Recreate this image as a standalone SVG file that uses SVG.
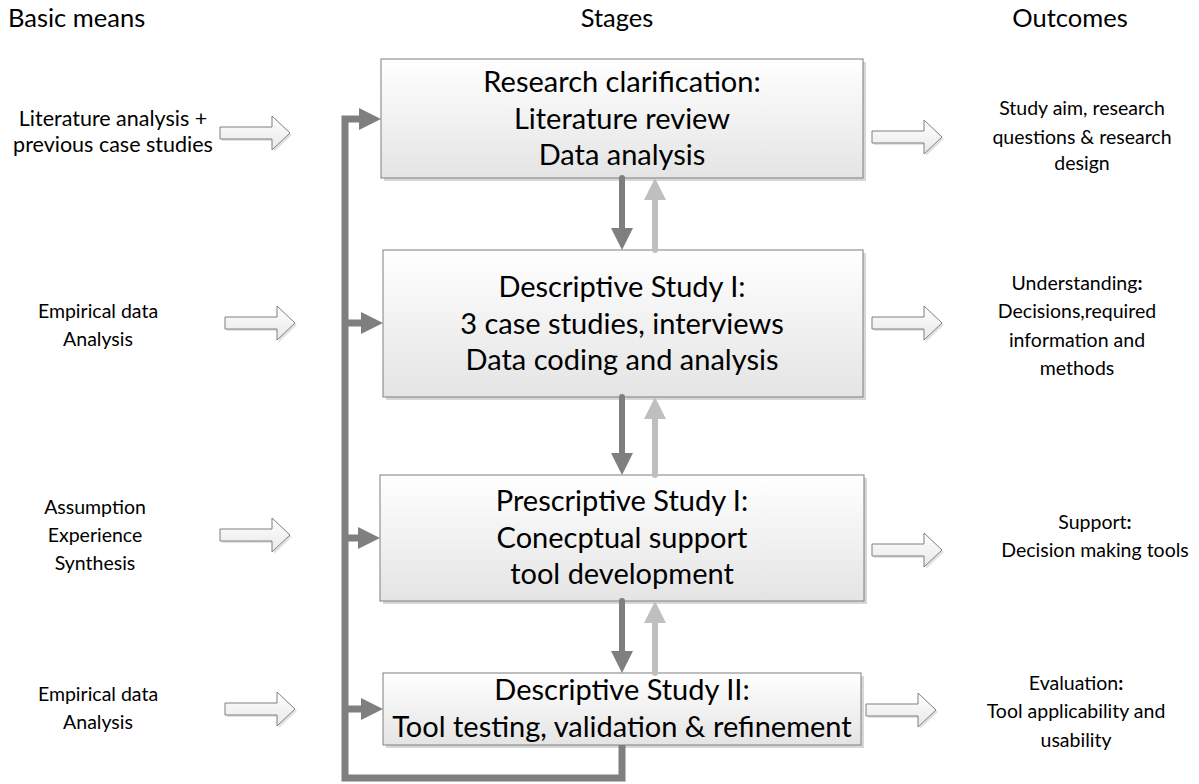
<svg xmlns="http://www.w3.org/2000/svg" width="1199" height="784" viewBox="0 0 1199 784">
<defs>
<linearGradient id="boxGrad" x1="0" y1="0" x2="0" y2="1">
<stop offset="0" stop-color="#ffffff"/>
<stop offset="1" stop-color="#e4e4e4"/>
</linearGradient>
<linearGradient id="arrGrad" x1="0" y1="0" x2="0" y2="1">
<stop offset="0" stop-color="#ffffff"/>
<stop offset="1" stop-color="#e8e8e8"/>
</linearGradient>
<marker id="headDark" viewBox="0 -11 22 22" markerWidth="22" markerHeight="22" refX="0" refY="0" orient="auto" markerUnits="userSpaceOnUse">
<path d="M0,-11 L22,0 L0,11 z" fill="#7f7f7f"/>
</marker>
<marker id="headLight" viewBox="0 -11 22 22" markerWidth="22" markerHeight="22" refX="0" refY="0" orient="auto" markerUnits="userSpaceOnUse">
<path d="M0,-11 L22,0 L0,11 z" fill="#bfbfbf"/>
</marker>
<path id="blockArrow" d="M0,-6 H52 V-17 L70,0 L52,17 V6 H0 z"/>
</defs>
<style>
text { font-family: Lato, "Open Sans", "Liberation Sans", sans-serif; fill: #000; }
.hdr { font-size: 25.5px; }
.box { font-size: 29px; text-anchor: middle; }
.side { font-size: 19.5px; text-anchor: middle; }
.side-lg { font-size: 21.5px; text-anchor: middle; }
.stage { fill: url(#boxGrad); stroke: #7f7f7f; stroke-width: 1; }
.shadow { fill: #bdbdbd; opacity: 0.6; }
.barr { fill: url(#arrGrad); stroke: #7f7f7f; stroke-width: 1; }
.barrsh { fill: #cfcfcf; opacity: 0.6; }
.dark { fill: none; stroke: #7f7f7f; stroke-width: 6; stroke-linecap: round; }
.light { fill: none; stroke: #bfbfbf; stroke-width: 6; stroke-linecap: round; }
.loop { fill: none; stroke: #7f7f7f; stroke-width: 7; stroke-linejoin: miter; }
</style>
<rect width="1199" height="784" fill="#ffffff"/>

<g id="headers">
<text class="hdr" x="8" y="27">Basic means</text>
<text class="hdr" x="617" y="27" text-anchor="middle">Stages</text>
<text class="hdr" x="1070" y="27" text-anchor="middle">Outcomes</text>
</g>

<g id="stage1">
<rect class="shadow" x="384" y="62" width="482" height="119"/>
<rect class="stage" x="381" y="59" width="482" height="119"/>
<text class="box" x="622" y="92">Research clarification:</text>
<text class="box" x="622" y="129">Literature review</text>
<text class="box" x="622" y="165">Data analysis</text>
</g>

<g id="stage2">
<rect class="shadow" x="386" y="253" width="480" height="147"/>
<rect class="stage" x="383" y="250" width="480" height="147"/>
<text class="box" x="622" y="297">Descriptive Study I:</text>
<text class="box" x="622" y="334">3 case studies, interviews</text>
<text class="box" x="622" y="370">Data coding and analysis</text>
</g>

<g id="stage3">
<rect class="shadow" x="383" y="478" width="484" height="126"/>
<rect class="stage" x="380" y="475" width="484" height="126"/>
<text class="box" x="622" y="511">Prescriptive Study I:</text>
<text class="box" x="622" y="548">Conecptual support</text>
<text class="box" x="622" y="584">tool development</text>
</g>

<g id="stage4">
<rect class="shadow" x="386" y="676" width="478" height="72"/>
<rect class="stage" x="383" y="673" width="478" height="72"/>
<text class="box" x="622" y="700">Descriptive Study II:</text>
<text class="box" x="622" y="737">Tool testing, validation &amp; refinement</text>
</g>

<g id="means1">
<text class="side-lg" x="113" y="126">Literature analysis +</text>
<text class="side-lg" x="113" y="152">previous case studies</text>
<use href="#blockArrow" class="barrsh" x="222" y="135"/>
<use href="#blockArrow" class="barr" x="220" y="133"/>
</g>
<g id="means2">
<text class="side" x="98" y="318">Empirical data</text>
<text class="side" x="98" y="346">Analysis</text>
<use href="#blockArrow" class="barrsh" x="227" y="325"/>
<use href="#blockArrow" class="barr" x="225" y="323"/>
</g>
<g id="means3">
<text class="side" x="95" y="514">Assumption</text>
<text class="side" x="95" y="542">Experience</text>
<text class="side" x="95" y="570">Synthesis</text>
<use href="#blockArrow" class="barrsh" x="222" y="537"/>
<use href="#blockArrow" class="barr" x="220" y="535"/>
</g>
<g id="means4">
<text class="side" x="98" y="701">Empirical data</text>
<text class="side" x="98" y="729">Analysis</text>
<use href="#blockArrow" class="barrsh" x="227" y="711"/>
<use href="#blockArrow" class="barr" x="225" y="709"/>
</g>

<g id="outcome1">
<use href="#blockArrow" class="barrsh" x="874" y="139"/>
<use href="#blockArrow" class="barr" x="872" y="137"/>
<text class="side" x="1082" y="115">Study aim, research</text>
<text class="side" x="1082" y="144">questions &amp; research</text>
<text class="side" x="1082" y="170">design</text>
</g>
<g id="outcome2">
<use href="#blockArrow" class="barrsh" x="874" y="325"/>
<use href="#blockArrow" class="barr" x="872" y="323"/>
<text class="side" x="1077" y="290">Understanding<tspan font-weight="bold">:</tspan></text>
<text class="side" x="1077" y="318">Decisions,required</text>
<text class="side" x="1077" y="347">information and</text>
<text class="side" x="1077" y="375">methods</text>
</g>
<g id="outcome3">
<use href="#blockArrow" class="barrsh" x="874" y="552"/>
<use href="#blockArrow" class="barr" x="872" y="550"/>
<text class="side" x="1095" y="529">Support<tspan font-weight="bold">:</tspan></text>
<text class="side" x="1095" y="557">Decision making tools</text>
</g>
<g id="outcome4">
<use href="#blockArrow" class="barrsh" x="868" y="712"/>
<use href="#blockArrow" class="barr" x="866" y="710"/>
<text class="side" x="1076" y="690">Evaluation<tspan font-weight="bold">:</tspan></text>
<text class="side" x="1076" y="718">Tool applicability and</text>
<text class="side" x="1076" y="747">usability</text>
</g>

<g id="connectors">
<path class="dark" d="M622,178 V228" marker-end="url(#headDark)"/>
<path class="light" d="M655,250 V200" marker-end="url(#headLight)"/>
<path class="dark" d="M622,397 V453" marker-end="url(#headDark)"/>
<path class="light" d="M655,475 V419" marker-end="url(#headLight)"/>
<path class="dark" d="M622,601 V651" marker-end="url(#headDark)"/>
<path class="light" d="M655,673 V623" marker-end="url(#headLight)"/>
<path class="loop" d="M622,745 V778 H345 V119 H359" stroke-linecap="butt" marker-end="url(#headDark)"/>
<path class="loop" d="M345,323 H361" marker-end="url(#headDark)"/>
<path class="loop" d="M345,538 H358" marker-end="url(#headDark)"/>
<path class="loop" d="M345,709 H361" marker-end="url(#headDark)"/>
</g>
</svg>
